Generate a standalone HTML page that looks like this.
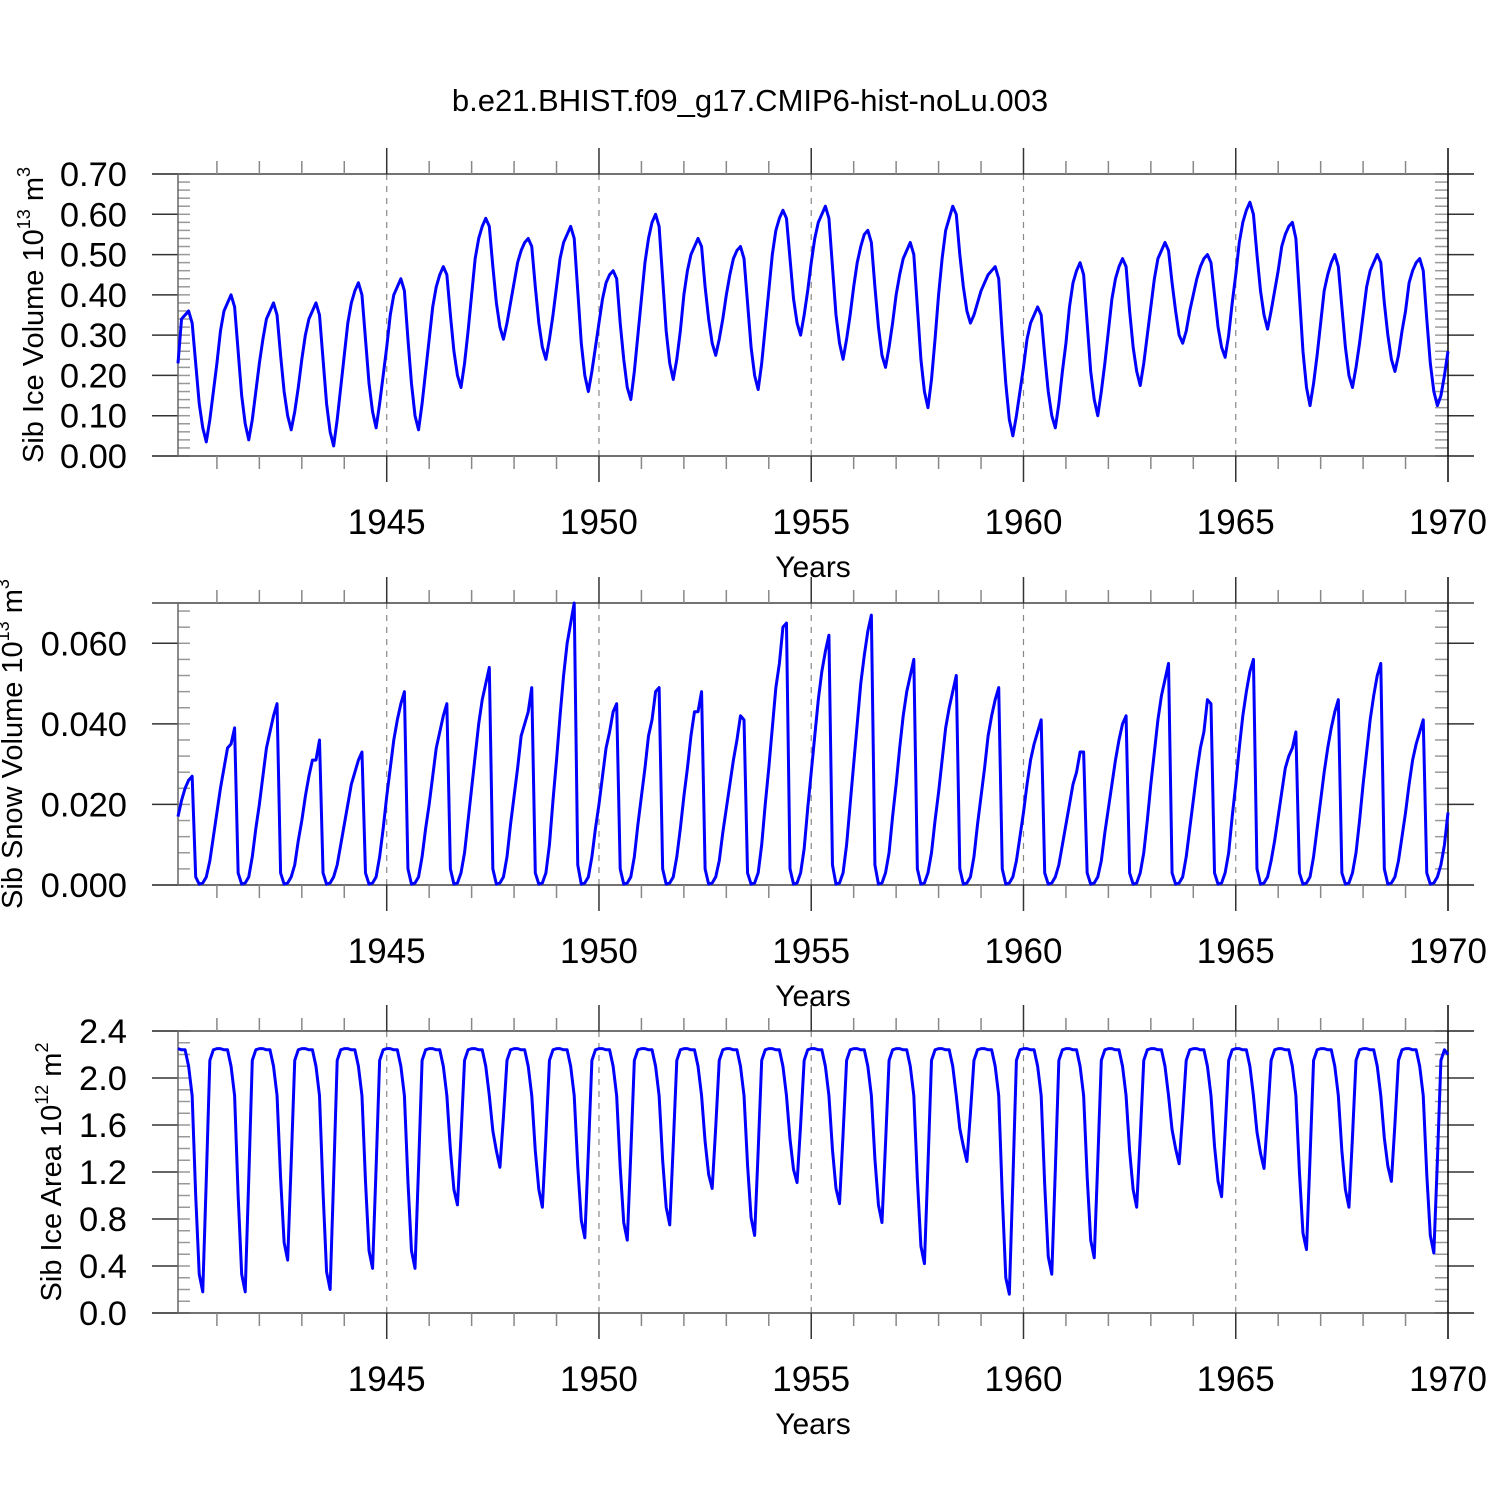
<!DOCTYPE html>
<html><head><meta charset="utf-8"><style>
html,body{margin:0;padding:0;background:#fff;}
svg{display:block;font-family:"Liberation Sans",Arial,sans-serif;}
</style></head><body>
<svg id="chart" width="1500" height="1500" viewBox="0 0 1500 1500" xmlns="http://www.w3.org/2000/svg">
<rect width="1500" height="1500" fill="#fff"/>
<text x="750" y="111" text-anchor="middle" font-size="31">b.e21.BHIST.f09_g17.CMIP6-hist-noLu.003</text>
</svg>
<script>
// x tick data
const xTickYears = [1945, 1950, 1955, 1960, 1965, 1970];
const xTickLabels = ["1945", "1950", "1955", "1960", "1965", "1970"];
const startYear = 1940 + 1/12;
// Sib Ice Volume (10^13 m^3), monthly from Feb 1940 to Jan 1970
const iceVolume = [
.23,.34,.35,.36,.33,.23,.13,.07,.035,.09,.16,
.23,.31,.36,.38,.40,.37,.26,.15,.08,.04,.09,.16,
.23,.29,.34,.36,.38,.35,.25,.16,.10,.065,.11,.17,
.24,.30,.34,.36,.38,.35,.24,.13,.06,.025,.09,.17,
.25,.33,.38,.41,.43,.40,.29,.18,.11,.07,.13,.20,
.27,.35,.40,.42,.44,.41,.29,.18,.10,.065,.13,.21,
.29,.37,.42,.45,.47,.45,.35,.26,.20,.17,.23,.31,
.40,.49,.54,.57,.59,.57,.47,.38,.32,.29,.33,.38,
.43,.48,.51,.53,.54,.52,.42,.33,.27,.24,.29,.35,
.42,.49,.53,.55,.57,.54,.41,.28,.20,.16,.21,.27,
.33,.39,.43,.45,.46,.44,.33,.24,.17,.14,.21,.30,
.39,.48,.54,.58,.60,.57,.44,.31,.23,.19,.24,.31,
.40,.46,.50,.52,.54,.52,.42,.34,.28,.25,.29,.34,
.40,.45,.49,.51,.52,.49,.38,.27,.20,.165,.23,.32,
.41,.50,.56,.59,.61,.59,.49,.39,.33,.30,.35,.41,
.48,.54,.58,.60,.62,.59,.47,.35,.28,.24,.29,.35,
.42,.48,.52,.55,.56,.53,.42,.32,.25,.22,.27,.33,
.40,.45,.49,.51,.53,.50,.37,.24,.16,.12,.19,.29,
.40,.49,.56,.59,.62,.60,.50,.42,.36,.33,.35,.38,
.41,.43,.45,.46,.47,.44,.30,.18,.09,.05,.10,.16,
.22,.29,.33,.35,.37,.35,.25,.16,.10,.07,.13,.21,
.28,.37,.43,.46,.48,.45,.33,.21,.14,.10,.16,.23,
.31,.39,.44,.47,.49,.47,.36,.27,.21,.175,.23,.30,
.37,.44,.49,.51,.53,.51,.43,.36,.30,.28,.31,.36,
.40,.44,.47,.49,.50,.48,.40,.32,.27,.245,.30,.38,
.45,.53,.58,.61,.63,.60,.50,.41,.35,.315,.36,.41,
.46,.52,.55,.57,.58,.54,.40,.26,.17,.125,.18,.25,
.33,.41,.45,.48,.50,.47,.37,.27,.20,.17,.22,.28,
.35,.42,.46,.48,.50,.48,.38,.30,.24,.21,.25,.31,
.36,.43,.46,.48,.49,.46,.34,.23,.16,.125,.15,.20,
.26];
// Sib Snow Volume in units of 0.001 x 10^13 m^3
const snowVolume = [
17,21,24,26,27,2,0.2,0.5,2,6,12,
18,24,29,34,35,39,3,0.2,0.5,2,7,14,
20,27,34,38,42,45,3,0.2,0.5,2,5,11,
16,22,27,31,31,36,3,0.2,0.5,2,5,10,
15,20,25,28,31,33,3,0.2,0.5,2,7,14,
22,29,36,41,45,48,4,0.2,0.5,2,7,14,
20,27,34,38,42,45,4,0.2,0.5,3,8,16,
24,32,40,46,50,54,4,0.2,0.5,2,7,15,
22,29,37,40,43,49,3,0.2,0.5,3,10,21,
31,42,52,60,65,70,5,0.2,0.5,2,7,14,
20,27,34,38,43,45,4,0.2,0.5,2,7,15,
22,29,37,41,48,49,4,0.2,0.5,2,7,14,
22,29,37,43,43,48,4,0.2,0.5,2,6,13,
19,25,31,36,42,41,3,0.2,0.5,3,10,20,
29,39,49,55,64,65,4,0.2,0.5,3,9,19,
28,37,46,53,58,62,5,0.2,0.5,3,10,20,
30,40,50,57,63,67,5,0.2,0.5,3,8,17,
25,34,42,48,52,56,4,0.2,0.5,3,8,16,
23,31,39,44,48,52,4,0.2,0.5,2,7,15,
22,29,37,42,46,49,4,0.2,0.5,2,6,12,
18,25,31,35,38,41,3,0.2,0.5,2,5,10,
15,20,25,28,33,33,3,0.2,0.5,2,6,13,
19,25,31,36,40,42,3,0.2,0.5,3,8,16,
25,33,41,47,51,55,3,0.2,0.5,2,7,14,
21,28,34,38,46,45,3,0.2,0.5,3,8,17,
25,34,42,48,53,56,4,0.2,0.5,2,6,11,
17,23,29,32,34,38,3,0.2,0.5,2,7,14,
21,28,34,39,43,46,3,0.2,0.5,3,8,16,
25,33,41,47,52,55,4,0.2,0.5,2,6,12,
18,25,31,35,38,41,3,0.2,0.5,2,5,10,
18];
// Sib Ice Area (10^12 m^2)
const iceArea = [
2.25,2.24,2.24,2.1,1.85,1.0,.33,.18,1.14,2.15,2.24,
2.25,2.25,2.24,2.24,2.1,1.85,1.0,.33,.18,1.14,2.15,2.24,
2.25,2.25,2.24,2.24,2.1,1.85,1.15,.6,.45,1.28,2.15,2.24,
2.25,2.25,2.24,2.24,2.1,1.85,1.03,.35,.20,1.15,2.15,2.24,
2.25,2.25,2.24,2.24,2.1,1.85,1.12,.53,.38,1.24,2.15,2.24,
2.25,2.25,2.24,2.24,2.1,1.85,1.12,.53,.38,1.24,2.15,2.24,
2.25,2.25,2.24,2.24,2.1,1.85,1.39,1.05,.92,1.51,2.15,2.24,
2.25,2.25,2.24,2.24,2.1,1.85,1.55,1.38,1.24,1.67,2.15,2.24,
2.25,2.25,2.24,2.24,2.1,1.85,1.38,1.05,.90,1.5,2.15,2.24,
2.25,2.25,2.24,2.24,2.1,1.85,1.25,.79,.64,1.37,2.15,2.24,
2.25,2.25,2.24,2.24,2.1,1.85,1.24,.77,.62,1.36,2.15,2.24,
2.25,2.25,2.24,2.24,2.1,1.85,1.3,.9,.75,1.43,2.15,2.24,
2.25,2.25,2.24,2.24,2.1,1.85,1.46,1.18,1.06,1.58,2.15,2.24,
2.25,2.25,2.24,2.24,2.1,1.85,1.26,.81,.66,1.38,2.15,2.24,
2.25,2.25,2.24,2.24,2.1,1.85,1.48,1.22,1.11,1.6,2.15,2.24,
2.25,2.25,2.24,2.24,2.1,1.85,1.39,1.06,.93,1.52,2.15,2.24,
2.25,2.25,2.24,2.24,2.1,1.85,1.31,.92,.77,1.44,2.15,2.24,
2.25,2.25,2.24,2.24,2.1,1.85,1.14,.57,.42,1.26,2.15,2.24,
2.25,2.25,2.24,2.24,2.1,1.85,1.57,1.42,1.29,1.7,2.15,2.24,
2.25,2.25,2.24,2.24,2.1,1.85,1.0,.3,.16,1.13,2.15,2.24,
2.25,2.25,2.24,2.24,2.1,1.85,1.09,.48,.33,1.22,2.15,2.24,
2.25,2.25,2.24,2.24,2.1,1.85,1.16,.62,.47,1.29,2.15,2.24,
2.25,2.25,2.24,2.24,2.1,1.85,1.38,1.05,.90,1.5,2.15,2.24,
2.25,2.25,2.24,2.24,2.1,1.85,1.56,1.4,1.27,1.69,2.15,2.24,
2.25,2.25,2.24,2.24,2.1,1.85,1.42,1.12,.99,1.55,2.15,2.24,
2.25,2.25,2.24,2.24,2.1,1.85,1.54,1.36,1.23,1.67,2.15,2.24,
2.25,2.25,2.24,2.24,2.1,1.85,1.2,.68,.54,1.32,2.15,2.24,
2.25,2.25,2.24,2.24,2.1,1.85,1.38,1.05,.90,1.5,2.15,2.24,
2.25,2.25,2.24,2.24,2.1,1.85,1.49,1.25,1.12,1.61,2.15,2.24,
2.25,2.25,2.24,2.24,2.1,1.85,1.18,.66,.51,1.3,2.15,2.24,
2.2];
const volTicks = [0,0.1,0.2,0.3,0.4,0.5,0.6,0.7];
const volTickLabels = ["0.00","0.10","0.20","0.30","0.40","0.50","0.60","0.70"];
const snowTicks = [0,20,40,60];
const snowTickLabels = ["0.000","0.020","0.040","0.060"];
const areaTicks = [0,0.4,0.8,1.2,1.6,2.0,2.4];
const areaTickLabels = ["0.0","0.4","0.8","1.2","1.6","2.0","2.4"];

const NS = "http://www.w3.org/2000/svg";
const svg = document.getElementById('chart');
const X0 = 178, X1 = 1448, FL = 152, FR = 1474;
function sx(t){ return X0 + (t - startYear) * (X1 - X0) / (1970 - startYear); }
function mk(tag, attrs, parent){
  const e = document.createElementNS(NS, tag);
  for (const k in attrs) e.setAttribute(k, attrs[k]);
  (parent || svg).appendChild(e);
  return e;
}

const panels = [
  {key:'ice-volume', top:174, bot:456, ymax:0.7, minorStep:0.02, data:iceVolume, ticks:volTicks, labels:volTickLabels, titleX:43, titleMain:'Sib Ice Volume 10', sup:'13', unit:' m', sup2:'3'},
  {key:'snow-volume', top:603, bot:885, ymax:70, minorStep:4, data:snowVolume, ticks:snowTicks, labels:snowTickLabels, titleX:22, titleMain:'Sib Snow Volume 10', sup:'13', unit:' m', sup2:'3'},
  {key:'ice-area', top:1031, bot:1313, ymax:2.4, minorStep:0.1, data:iceArea, ticks:areaTicks, labels:areaTickLabels, titleX:61, titleMain:'Sib Ice Area 10', sup:'12', unit:' m', sup2:'2'}
];

panels.forEach(p => {
  const g = mk('g', {});
  
  
  const sy = v => p.bot - v / p.ymax * (p.bot - p.top);
  xTickYears.forEach(yr => {
    if (yr === 1970) return;
    const l = mk('line', {x1:sx(yr), x2:sx(yr), y1:p.top, y2:p.bot, stroke:'#888', 'stroke-width':1.2, 'stroke-dasharray':'6,6'}, g);
    
    
  });
  for (let v = 0; v <= p.ymax + 1e-9; v += p.minorStep) {
    const y = sy(v);
    mk('line', {x1:X0, x2:X0+12, y1:y, y2:y, stroke:'#999', 'stroke-width':1.5}, g);
    mk('line', {x1:X1-13, x2:X1, y1:y, y2:y, stroke:'#999', 'stroke-width':1.5}, g);
  }
  p.ticks.forEach((v, i) => {
    const y = sy(v);
    mk('line', {x1:FL, x2:X0, y1:y, y2:y, stroke:'#333', 'stroke-width':1.5}, g);
    mk('line', {x1:X1, x2:FR, y1:y, y2:y, stroke:'#333', 'stroke-width':1.5}, g);
    const t = mk('text', {x:127, y:y+12, 'text-anchor':'end', 'font-size':34.5}, g);
    t.textContent = p.labels[i];
    
    
  });
  mk('line', {x1:FL, x2:FR, y1:p.top, y2:p.top, stroke:'#444', 'stroke-width':1.5}, g);
  mk('line', {x1:FL, x2:FR, y1:p.bot, y2:p.bot, stroke:'#444', 'stroke-width':1.5}, g);
  mk('line', {x1:X0, x2:X0, y1:p.top, y2:p.bot, stroke:'#666', 'stroke-width':1.5}, g);
  mk('line', {x1:X1, x2:X1, y1:p.top-26, y2:p.bot+26, stroke:'#000', 'stroke-width':1.5}, g);
  for (let yr = 1941; yr < 1970; yr++) {
    if (yr % 5 === 0) continue;
    const x = sx(yr);
    mk('line', {x1:x, x2:x, y1:p.top-13, y2:p.top, stroke:'#888', 'stroke-width':1.5}, g);
    mk('line', {x1:x, x2:x, y1:p.bot, y2:p.bot+13, stroke:'#888', 'stroke-width':1.5}, g);
  }
  xTickYears.forEach((yr, i) => {
    const x = sx(yr);
    mk('line', {x1:x, x2:x, y1:p.top-26, y2:p.top, stroke:'#333', 'stroke-width':1.5}, g);
    mk('line', {x1:x, x2:x, y1:p.bot, y2:p.bot+26, stroke:'#333', 'stroke-width':1.5}, g);
    const t = mk('text', {x:x, y:p.bot+78, 'text-anchor':'middle', 'font-size':35}, g);
    t.textContent = xTickLabels[i];
    
    
  });
  const xt = mk('text', {x:813, y:p.bot+121, 'text-anchor':'middle', 'font-size':30}, g);
  xt.textContent = 'Years';
  
  
  const cy = (p.top + p.bot) / 2;
  const yt = mk('text', {x:p.titleX, y:cy, 'text-anchor':'middle', 'font-size':29, transform:'rotate(-90 ' + p.titleX + ' ' + cy + ')'}, g);
  
  
  const s1 = mk('tspan', {}, yt); s1.textContent = p.titleMain;
  const s2 = mk('tspan', {dy:-13, 'font-size':18}, yt); s2.textContent = p.sup;
  const s3 = mk('tspan', {dy:13}, yt); s3.textContent = p.unit;
  const s4 = mk('tspan', {dy:-13, 'font-size':18}, yt); s4.textContent = p.sup2;
  const pts = p.data.map((v, i) => sx(startYear + i/12).toFixed(2) + ',' + sy(Math.min(v, p.ymax)).toFixed(2)).join(' ');
  const line = mk('polyline', {points:pts, fill:'none', stroke:'#0000ff', 'stroke-width':3, 'stroke-linejoin':'round'}, g);
  
  
});
</script>
</body></html>
